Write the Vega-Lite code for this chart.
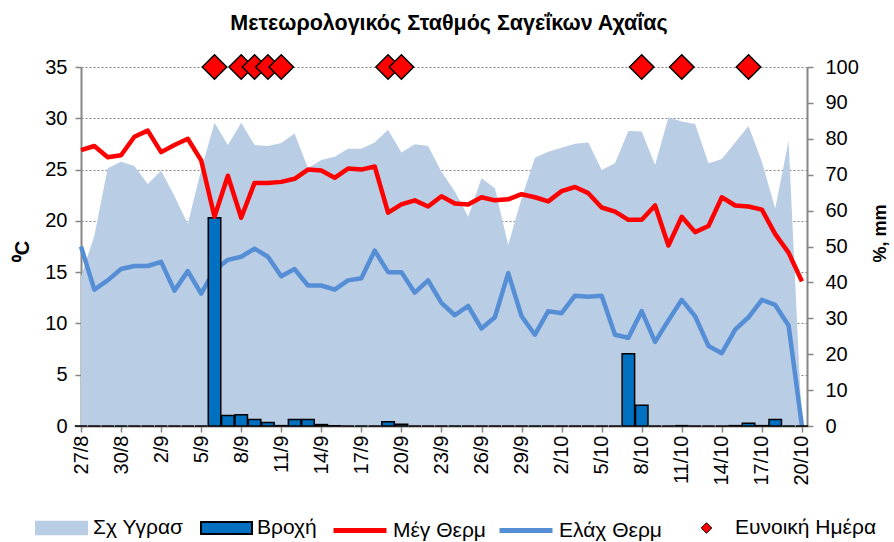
{
  "$schema": "https://vega.github.io/schema/vega-lite/v6.json",
  "autosize": "none",
  "width": 726,
  "height": 359,
  "padding": {"left": 81, "top": 67, "right": 87, "bottom": 116},
  "background": "white",
  "title": {"text": "Μετεωρολογικός Σταθμός Σαγεΐκων Αχαΐας", "font": "Liberation Sans", "fontSize": 21.5, "fontWeight": "bold", "color": "black", "anchor": "middle", "offset": 17, "dx": 5},
  "data": {"values": [
    {"d": "27/8", "h": 41.6, "r": 0, "tx": 26.9, "tn": 17.5, "fav": false},
    {"d": "28/8", "h": 53.0, "r": 0, "tx": 27.3, "tn": 13.3, "fav": false},
    {"d": "29/8", "h": 71.8, "r": 0, "tx": 26.2, "tn": 14.2, "fav": false},
    {"d": "30/8", "h": 73.6, "r": 0, "tx": 26.4, "tn": 15.3, "fav": false},
    {"d": "31/8", "h": 72.4, "r": 0, "tx": 28.2, "tn": 15.6, "fav": false},
    {"d": "1/9", "h": 67.4, "r": 0, "tx": 28.8, "tn": 15.6, "fav": false},
    {"d": "2/9", "h": 71.1, "r": 0, "tx": 26.7, "tn": 16.0, "fav": false},
    {"d": "3/9", "h": 64.1, "r": 0, "tx": 27.4, "tn": 13.2, "fav": false},
    {"d": "4/9", "h": 56.3, "r": 0, "tx": 28.0, "tn": 15.1, "fav": false},
    {"d": "5/9", "h": 71.3, "r": 0, "tx": 25.9, "tn": 12.9, "fav": false},
    {"d": "6/9", "h": 84.5, "r": 58.0, "tx": 20.4, "tn": 15.2, "fav": true},
    {"d": "7/9", "h": 78.3, "r": 2.9, "tx": 24.4, "tn": 16.2, "fav": false},
    {"d": "8/9", "h": 84.5, "r": 3.1, "tx": 20.3, "tn": 16.5, "fav": true},
    {"d": "9/9", "h": 78.3, "r": 1.8, "tx": 23.7, "tn": 17.3, "fav": true},
    {"d": "10/9", "h": 78.0, "r": 1.0, "tx": 23.7, "tn": 16.5, "fav": true},
    {"d": "11/9", "h": 78.8, "r": 0.1, "tx": 23.8, "tn": 14.6, "fav": true},
    {"d": "12/9", "h": 81.5, "r": 1.8, "tx": 24.1, "tn": 15.3, "fav": false},
    {"d": "13/9", "h": 71.8, "r": 1.8, "tx": 25.0, "tn": 13.7, "fav": false},
    {"d": "14/9", "h": 74.1, "r": 0.4, "tx": 24.9, "tn": 13.7, "fav": false},
    {"d": "15/9", "h": 75.0, "r": 0.1, "tx": 24.2, "tn": 13.3, "fav": false},
    {"d": "16/9", "h": 77.2, "r": 0, "tx": 25.1, "tn": 14.2, "fav": false},
    {"d": "17/9", "h": 77.2, "r": 0, "tx": 25.0, "tn": 14.4, "fav": false},
    {"d": "18/9", "h": 79.0, "r": 0, "tx": 25.3, "tn": 17.1, "fav": false},
    {"d": "19/9", "h": 82.5, "r": 1.2, "tx": 20.8, "tn": 15.0, "fav": true},
    {"d": "20/9", "h": 76.2, "r": 0.5, "tx": 21.6, "tn": 15.0, "fav": true},
    {"d": "21/9", "h": 78.5, "r": 0, "tx": 22.0, "tn": 13.0, "fav": false},
    {"d": "22/9", "h": 78.0, "r": 0, "tx": 21.4, "tn": 14.2, "fav": false},
    {"d": "23/9", "h": 70.8, "r": 0, "tx": 22.4, "tn": 12.0, "fav": false},
    {"d": "24/9", "h": 65.3, "r": 0, "tx": 21.7, "tn": 10.8, "fav": false},
    {"d": "25/9", "h": 58.3, "r": 0, "tx": 21.6, "tn": 11.7, "fav": false},
    {"d": "26/9", "h": 69.0, "r": 0, "tx": 22.3, "tn": 9.5, "fav": false},
    {"d": "27/9", "h": 66.2, "r": 0, "tx": 22.0, "tn": 10.6, "fav": false},
    {"d": "28/9", "h": 50.4, "r": 0, "tx": 22.1, "tn": 14.9, "fav": false},
    {"d": "29/9", "h": 63.4, "r": 0, "tx": 22.6, "tn": 10.7, "fav": false},
    {"d": "30/9", "h": 74.7, "r": 0, "tx": 22.3, "tn": 8.9, "fav": false},
    {"d": "1/10", "h": 76.4, "r": 0, "tx": 21.9, "tn": 11.2, "fav": false},
    {"d": "2/10", "h": 77.5, "r": 0, "tx": 22.9, "tn": 11.0, "fav": false},
    {"d": "3/10", "h": 78.6, "r": 0, "tx": 23.3, "tn": 12.7, "fav": false},
    {"d": "4/10", "h": 79.0, "r": 0, "tx": 22.7, "tn": 12.6, "fav": false},
    {"d": "5/10", "h": 71.3, "r": 0, "tx": 21.3, "tn": 12.7, "fav": false},
    {"d": "6/10", "h": 73.2, "r": 0, "tx": 20.9, "tn": 8.9, "fav": false},
    {"d": "7/10", "h": 82.2, "r": 20.1, "tx": 20.1, "tn": 8.6, "fav": false},
    {"d": "8/10", "h": 82.0, "r": 5.8, "tx": 20.1, "tn": 11.2, "fav": true},
    {"d": "9/10", "h": 72.7, "r": 0, "tx": 21.5, "tn": 8.2, "fav": false},
    {"d": "10/10", "h": 85.9, "r": 0, "tx": 17.6, "tn": 10.3, "fav": false},
    {"d": "11/10", "h": 84.8, "r": 0.1, "tx": 20.4, "tn": 12.3, "fav": true},
    {"d": "12/10", "h": 84.1, "r": 0, "tx": 18.9, "tn": 10.7, "fav": false},
    {"d": "13/10", "h": 73.2, "r": 0, "tx": 19.5, "tn": 7.8, "fav": false},
    {"d": "14/10", "h": 74.4, "r": 0, "tx": 22.3, "tn": 7.1, "fav": false},
    {"d": "15/10", "h": 79.0, "r": 0.1, "tx": 21.5, "tn": 9.4, "fav": false},
    {"d": "16/10", "h": 83.6, "r": 0.8, "tx": 21.4, "tn": 10.6, "fav": true},
    {"d": "17/10", "h": 73.6, "r": 0.1, "tx": 21.1, "tn": 12.3, "fav": false},
    {"d": "18/10", "h": 60.6, "r": 1.8, "tx": 18.7, "tn": 11.8, "fav": false},
    {"d": "19/10", "h": 79.4, "r": 0, "tx": 16.9, "tn": 9.8, "fav": false},
    {"d": "20/10", "h": 0, "r": 0, "tx": 14.1, "tn": 0, "fav": false}
  ]},
  "encoding": {
    "x": {
      "field": "d", "type": "ordinal",
      "scale": {"type": "point", "padding": 0.19, "align": 0, "domain": ["27/8","28/8","29/8","30/8","31/8","1/9","2/9","3/9","4/9","5/9","6/9","7/9","8/9","9/9","10/9","11/9","12/9","13/9","14/9","15/9","16/9","17/9","18/9","19/9","20/9","21/9","22/9","23/9","24/9","25/9","26/9","27/9","28/9","29/9","30/9","1/10","2/10","3/10","4/10","5/10","6/10","7/10","8/10","9/10","10/10","11/10","12/10","13/10","14/10","15/10","16/10","17/10","18/10","19/10","20/10"]},
      "axis": {
        "title": null,
        "values": ["27/8","30/8","2/9","5/9","8/9","11/9","14/9","17/9","20/9","23/9","26/9","29/9","2/10","5/10","8/10","11/10","14/10","17/10","20/10"],
        "labelAngle": -90, "labelFont": "Liberation Sans", "labelFontSize": 20, "labelColor": "black",
        "labelPadding": 3, "tickSize": 6, "tickColor": "#868686", "tickWidth": 1.5,
        "domainColor": "#868686", "domainWidth": 2, "grid": false
      }
    }
  },
  "layer": [
    {
      "mark": {"type": "area", "opacity": 1},
      "encoding": {
        "y": {"field": "h", "type": "quantitative", "scale": {"domain": [0, 100]},
          "axis": {"orient": "right", "values": [0,10,20,30,40,50,60,70,80,90,100], "title": "%, mm", "titleAngle": -90, "titleFont": "Liberation Sans", "titleFontSize": 18, "titleFontWeight": "bold", "titleColor": "black", "titleX": 73, "titleY": 166, "titleAlign": "center", "titleBaseline": "middle",
            "labelFont": "Liberation Sans", "labelFontSize": 20, "labelColor": "black", "labelPadding": 12, "tickSize": 6, "tickColor": "#868686", "tickWidth": 1.5, "domainColor": "#868686", "domainWidth": 2, "grid": false}},
        "color": {"datum": "Σχ Υγρασ", "type": "nominal", "scale": {"range": ["#B9CDE5"]},
          "legend": {"title": null, "legendX": -46, "legendY": 434.5, "symbolType": "M-1,-0.27L1,-0.27L1,0.27L-1,0.27Z", "symbolSize": 2809, "symbolStrokeWidth": 0, "symbolFillColor": "#B9CDE5", "symbolOpacity": 1, "labelOffset": 5}}
      }
    },
    {
      "mark": {"type": "line", "strokeWidth": 4.5, "strokeJoin": "round"},
      "encoding": {
        "y": {"field": "tn", "type": "quantitative", "scale": {"domain": [0, 35]}, "axis": null},
        "color": {"datum": "Ελάχ Θερμ", "type": "nominal", "scale": {"range": ["#558ED5"]},
          "legend": {"title": null, "legendX": 416, "legendY": 434.5, "symbolType": "stroke", "symbolSize": 2809, "symbolStrokeWidth": 5, "symbolStrokeColor": "#558ED5", "symbolOpacity": 1, "labelOffset": 4}}
      }
    },
    {
      "mark": {"type": "bar", "width": 12.5, "stroke": "black", "strokeWidth": 1.5},
      "encoding": {
        "y": {"field": "r", "type": "quantitative", "scale": {"domain": [0, 100]}, "axis": null},
        "color": {"datum": "Βροχή", "type": "nominal", "scale": {"range": ["#0070C0"]},
          "legend": {"title": null, "legendX": 119, "legendY": 434.5, "symbolType": "M-1,-0.24L1,-0.24L1,0.24L-1,0.24Z", "symbolSize": 2601, "symbolFillColor": "#0070C0", "symbolStrokeColor": "black", "symbolStrokeWidth": 2, "symbolOpacity": 1, "labelOffset": 4}}
      }
    },
    {
      "mark": {"type": "line", "strokeWidth": 4.5, "strokeJoin": "round"},
      "encoding": {
        "y": {"field": "tx", "type": "quantitative", "scale": {"domain": [0, 35]},
          "axis": {"orient": "left", "values": [0,5,10,15,20,25,30,35], "title": "⁰C", "titleFont": "Liberation Sans", "titleFontSize": 20, "titleFontWeight": "bold", "titleColor": "black", "titleAngle": -90, "titleX": -59, "titleY": 184, "titleAlign": "center", "titleBaseline": "middle",
            "labelFont": "Liberation Sans", "labelFontSize": 20, "labelColor": "black", "labelPadding": 8, "tickSize": 6, "tickColor": "#868686", "tickWidth": 1.5, "domainColor": "#868686", "domainWidth": 2,
            "grid": true, "gridColor": "#868686", "gridDash": [2, 2], "gridWidth": 1.2}},
        "color": {"datum": "Μέγ Θερμ", "type": "nominal", "scale": {"range": ["#FF0000"]},
          "legend": {"title": null, "legendX": 250, "legendY": 434.5, "symbolType": "stroke", "symbolSize": 2809, "symbolStrokeWidth": 5, "symbolStrokeColor": "#FF0000", "symbolOpacity": 1, "labelOffset": 4}}
      }
    },
    {
      "transform": [{"filter": "datum.fav"}],
      "mark": {"type": "point", "shape": "diamond", "filled": true, "size": 600, "stroke": "black", "strokeWidth": 1.5, "opacity": 1},
      "encoding": {
        "y": {"datum": 100, "type": "quantitative", "scale": {"domain": [0, 100]}, "axis": null},
        "color": {"datum": "Ευνοική Ημέρα", "type": "nominal", "scale": {"range": ["#FF0000"]},
          "legend": {"title": null, "legendX": 615, "legendY": 450.5, "symbolType": "diamond", "symbolSize": 110, "symbolStrokeColor": "black", "symbolStrokeWidth": 1, "symbolFillColor": "#FF0000", "symbolOpacity": 1, "labelOffset": 18}}
      }
    }
  ],
  "resolve": {"scale": {"y": "independent", "color": "independent"}, "legend": {"color": "independent"}},
  "config": {
    "view": {"stroke": null},
    "legend": {"orient": "none", "padding": 0, "labelFont": "Liberation Sans", "labelFontSize": 21, "labelColor": "black", "labelOffset": 5, "labelLimit": 300}
  }
}
